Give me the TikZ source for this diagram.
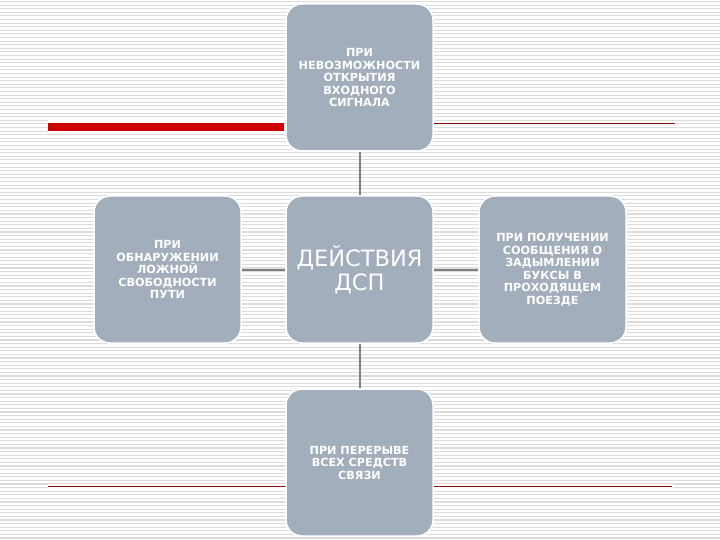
\documentclass[tikz,border=0pt]{standalone}
\usepackage{fontspec}
\setmainfont{DejaVu Sans}
\definecolor{boxfill}{HTML}{A2AEBC}
\definecolor{stripe}{HTML}{DCDCDC}
\definecolor{redbar}{HTML}{CC0000}
\definecolor{thinred}{HTML}{8A1010}
\definecolor{conn}{HTML}{808080}
\tikzset{
  card/.style={draw=white, line width=1.5pt, fill=boxfill, rounded corners=16pt,
    minimum width=147pt, minimum height=147pt, inner sep=0pt, text=white,
    align=center},
  small/.style={font=\bfseries\fontsize{11.2}{12.5}\selectfont},
  big/.style={font=\fontsize{22.5}{24}\selectfont},
  link/.style={draw=conn, line width=2pt}
}
\begin{document}
\begin{tikzpicture}[x=1pt,y=-1pt]
\useasboundingbox (0,0) rectangle (720,540);
\fill[white] (0,0) rectangle (720,540);
\foreach \i in {0,...,150} {
  \fill[stripe] (0,\i*3.6+1) rectangle (720,\i*3.6+2.1);
}
% faint white margins around decorative lines
\fill[white] (48,120) rectangle (284,134);
\fill[white] (433,121) rectangle (676,125);
\fill[white] (48,484) rectangle (673,488);
% decorative lines
\fill[redbar] (48,123) rectangle (284,131.5);
\draw[thinred, line width=0.9pt] (433,123) -- (675,123);
\draw[thinred, line width=0.9pt] (48,486) -- (672,486);
% nodes
\node[card, small] (top) at (359.5,77.5) {ПРИ\\НЕВОЗМОЖНОСТИ\\ОТКРЫТИЯ\\ВХОДНОГО\\СИГНАЛА};
\node[card, big] (mid) at (359.5,269.5) {ДЕЙСТВИЯ\\ДСП};
\node[card, small] (left) at (167.5,269.5) {ПРИ\\ОБНАРУЖЕНИИ\\ЛОЖНОЙ\\СВОБОДНОСТИ\\ПУТИ};
\node[card, small] (right) at (552.5,269.5) {ПРИ ПОЛУЧЕНИИ\\СООБЩЕНИЯ О\\ЗАДЫМЛЕНИИ\\БУКСЫ В\\ПРОХОДЯЩЕМ\\ПОЕЗДЕ};
\node[card, small] (bot) at (359.5,462.5) {ПРИ ПЕРЕРЫВЕ\\ВСЕХ СРЕДСТВ\\СВЯЗИ};
% connectors
\draw[link] (top.south) -- (mid.north);
\draw[link] (mid.south) -- (bot.north);
\draw[link] (left.east) -- (mid.west);
\draw[link] (mid.east) -- (right.west);
\end{tikzpicture}
\end{document}
